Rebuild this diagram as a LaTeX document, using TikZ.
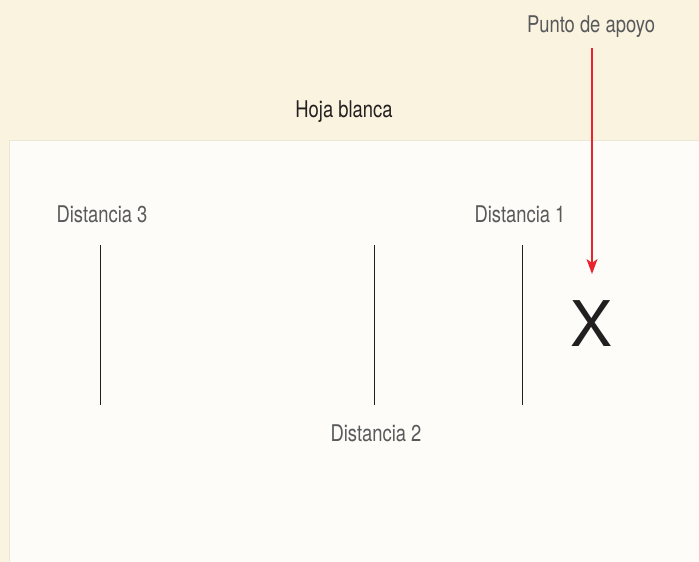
\documentclass[tikz,border=0pt]{standalone}
\usepackage{fontspec}
\usetikzlibrary{arrows.meta}
\newfontfamily\condfont{TeX Gyre Heros}[FakeStretch=0.8]
\newfontfamily\plainfont{TeX Gyre Heros}
\definecolor{cream}{RGB}{250,243,223}
\definecolor{sheet}{RGB}{253,252,248}
\definecolor{sheetedge}{RGB}{236,230,212}
\definecolor{labelgray}{RGB}{88,89,91}
\definecolor{darktext}{RGB}{35,31,32}
\definecolor{arrowred}{RGB}{232,35,45}
\tikzset{
  lbl/.style={anchor=base, inner sep=0pt, font=\condfont\fontsize{23}{26}\selectfont, text=labelgray},
  title/.style={lbl, text=darktext},
  dline/.style={line width=1pt, draw=darktext},
  redarrow/.style={line width=1.1pt, draw=arrowred, -{Stealth[length=15pt,width=11pt,inset=4pt]}},
}
\begin{document}
\begin{tikzpicture}[x=1pt,y=-1pt]
\useasboundingbox (0,0) rectangle (699,562);
\fill[cream] (0,0) rectangle (699,562);
\fill[sheetedge] (9,139.5) rectangle (699,562);
\fill[sheet] (10,141) rectangle (699,562);
% labels
\node[lbl] (punto) at (591,32) {Punto de apoyo};
\node[title] (hoja) at (344,117) {Hoja blanca};
\node[lbl] (d3) at (102,222) {Distancia 3};
\node[lbl] (d1) at (520,222) {Distancia 1};
\node[lbl] (d2) at (376,441) {Distancia 2};
\node[anchor=base, inner sep=0pt, font=\plainfont\fontsize{63}{70}\selectfont, text=darktext] (xmark) at (592,346) {X};
% vertical lines
\coordinate (l3t) at (100,245); \coordinate (l3b) at (100,405);
\coordinate (l2t) at (374,245); \coordinate (l2b) at (374,405);
\coordinate (l1t) at (522,245); \coordinate (l1b) at (522,405);
\draw[dline] (l3t) -- (l3b);
\draw[dline] (l2t) -- (l2b);
\draw[dline] (l1t) -- (l1b);
% red arrow
\coordinate (as) at (592,48);
\coordinate (ae) at (592,274);
\draw[redarrow] (as) -- (ae);
\end{tikzpicture}
\end{document}
